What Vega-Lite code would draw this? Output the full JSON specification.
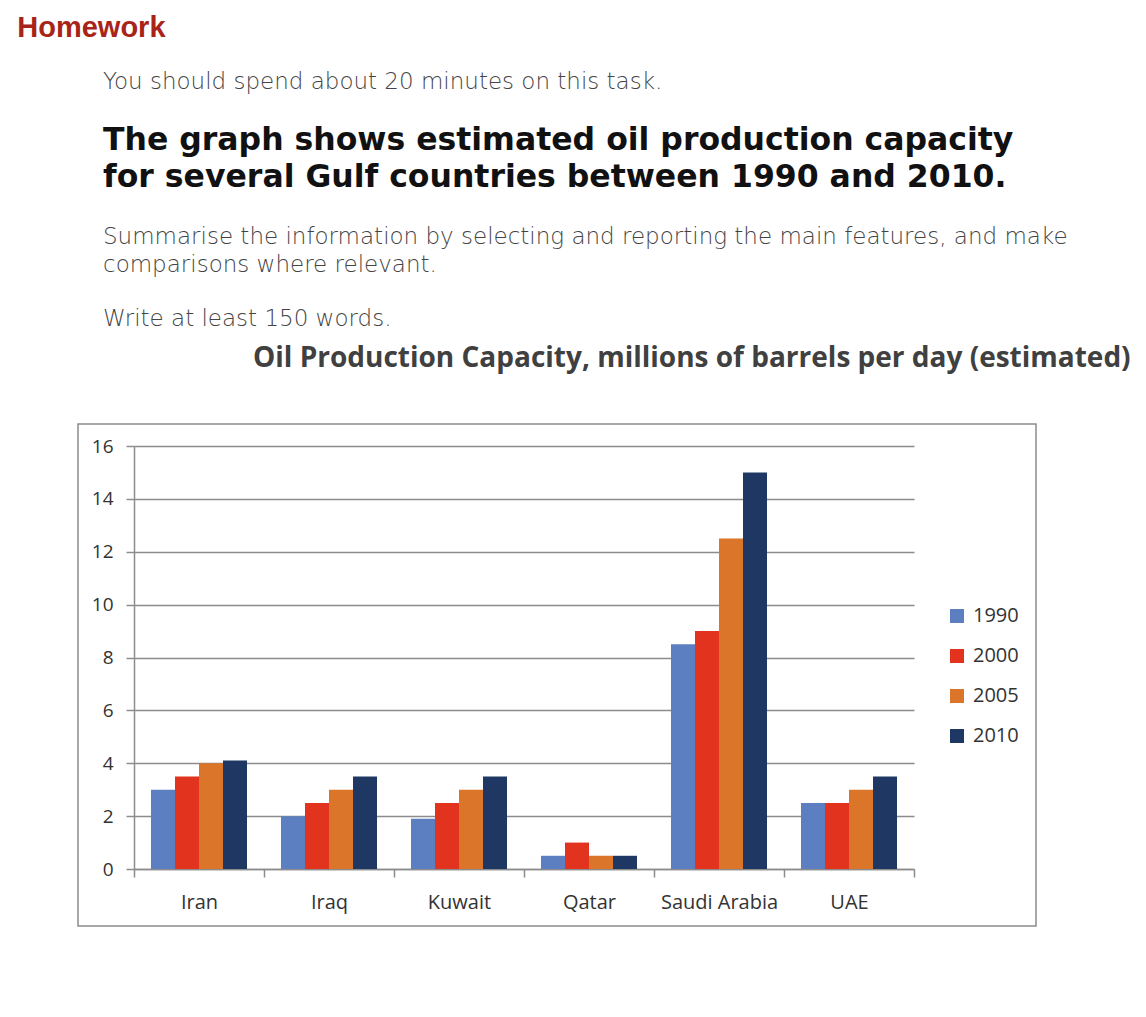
{
  "$schema": "https://vega.github.io/schema/vega-lite/v6.json",
  "background": "white",
  "padding": {"left": 17, "top": 13, "right": 2, "bottom": 2},
  "spacing": -7,
  "resolve": {"legend": {"color": "independent"}, "scale": {"color": "independent"}},
  "title": {
    "text": "Homework",
    "anchor": "start",
    "dx": -60,
    "font": "Liberation Sans",
    "fontSize": 29,
    "fontWeight": "bold",
    "color": "#a82418",
    "offset": 28
  },
  "datasets": {
    "oil": [
      {"country": "Iran", "year": "1990", "value": 3.0},
      {"country": "Iran", "year": "2000", "value": 3.5},
      {"country": "Iran", "year": "2005", "value": 4.0},
      {"country": "Iran", "year": "2010", "value": 4.1},
      {"country": "Iraq", "year": "1990", "value": 2.0},
      {"country": "Iraq", "year": "2000", "value": 2.5},
      {"country": "Iraq", "year": "2005", "value": 3.0},
      {"country": "Iraq", "year": "2010", "value": 3.5},
      {"country": "Kuwait", "year": "1990", "value": 1.9},
      {"country": "Kuwait", "year": "2000", "value": 2.5},
      {"country": "Kuwait", "year": "2005", "value": 3.0},
      {"country": "Kuwait", "year": "2010", "value": 3.5},
      {"country": "Qatar", "year": "1990", "value": 0.5},
      {"country": "Qatar", "year": "2000", "value": 1.0},
      {"country": "Qatar", "year": "2005", "value": 0.5},
      {"country": "Qatar", "year": "2010", "value": 0.5},
      {"country": "Saudi Arabia", "year": "1990", "value": 8.5},
      {"country": "Saudi Arabia", "year": "2000", "value": 9.0},
      {"country": "Saudi Arabia", "year": "2005", "value": 12.5},
      {"country": "Saudi Arabia", "year": "2010", "value": 15.0},
      {"country": "UAE", "year": "1990", "value": 2.5},
      {"country": "UAE", "year": "2000", "value": 2.5},
      {"country": "UAE", "year": "2005", "value": 3.0},
      {"country": "UAE", "year": "2010", "value": 3.5}
    ]
  },
  "vconcat": [
    {
      "width": 958,
      "height": 40,
      "data": {"values": []},
      "mark": "point",
      "title": {
        "text": "You should spend about 20 minutes on this task.",
        "subtitle": ["The graph shows estimated oil production capacity", "for several Gulf countries between 1990 and 2010."],
        "anchor": "start",
        "dx": 25,
        "offset": 0,
        "font": "DejaVu Sans",
        "fontSize": 23,
        "fontWeight": 200,
        "color": "#444444",
        "subtitleFont": "DejaVu Sans",
        "subtitleFontSize": 31.5,
        "subtitleFontWeight": "bold",
        "subtitleColor": "#111111",
        "subtitleLineHeight": 37,
        "subtitlePadding": 31
      }
    },
    {
      "width": 958,
      "height": 0,
      "data": {"values": []},
      "mark": "point",
      "title": {
        "text": ["Summarise the information by selecting and reporting the main features, and make", "comparisons where relevant."],
        "subtitle": "Write at least 150 words.",
        "anchor": "start",
        "dx": 25,
        "offset": 0,
        "font": "DejaVu Sans",
        "fontSize": 23,
        "fontWeight": 200,
        "lineHeight": 28,
        "color": "#444444",
        "subtitleFont": "DejaVu Sans",
        "subtitleFontSize": 23,
        "subtitleFontWeight": 200,
        "subtitleColor": "#444444",
        "subtitlePadding": 31
      }
    },
    {
      "width": 958,
      "height": 502,
      "view": {"stroke": "#8c8c8c", "strokeWidth": 1.5},
      "data": {"name": "oil"},
      "title": {
        "text": "Oil Production Capacity, millions of barrels per day (estimated)",
        "anchor": "start",
        "dx": 175,
        "offset": 51,
        "font": "Open Sans",
        "fontSize": 28,
        "fontWeight": "bold",
        "color": "#404040"
      },
      "mark": {"type": "bar"},
      "encoding": {
        "x": {
          "field": "country",
          "type": "nominal",
          "sort": ["Iran", "Iraq", "Kuwait", "Qatar", "Saudi Arabia", "UAE"],
          "scale": {"range": [56, 836], "paddingInner": 0, "paddingOuter": 0},
          "axis": {
            "title": null,
            "offset": -57,
            "tickBand": "extent",
            "labelAngle": 0,
            "labelFont": "Open Sans",
            "labelFontSize": 20,
            "labelColor": "#333333",
            "labelPadding": 15,
            "tickSize": 8,
            "domainColor": "#8c8c8c",
            "tickColor": "#8c8c8c",
            "domainWidth": 1.5,
            "tickWidth": 1.5,
            "grid": false
          }
        },
        "xOffset": {
          "field": "year",
          "type": "nominal",
          "scale": {"paddingInner": 0, "paddingOuter": 0.708}
        },
        "y": {
          "field": "value",
          "type": "quantitative",
          "scale": {"domain": [0, 16], "range": [445, 22], "nice": false},
          "axis": {
            "title": null,
            "offset": -56,
            "values": [0, 2, 4, 6, 8, 10, 12, 14, 16],
            "labelFont": "Open Sans",
            "labelFontSize": 19,
            "labelColor": "#333333",
            "labelPadding": 13,
            "tickSize": 8,
            "grid": true,
            "gridColor": "#8c8c8c",
            "gridWidth": 1.5,
            "domainColor": "#8c8c8c",
            "tickColor": "#8c8c8c",
            "domainWidth": 1.5,
            "tickWidth": 1.5
          }
        },
        "color": {
          "field": "year",
          "type": "nominal",
          "scale": {
            "domain": ["1990", "2000", "2005", "2010"],
            "range": ["#5b7fc0", "#e2331f", "#da7529", "#1f3763"]
          },
          "legend": {
            "title": null,
            "orient": "none",
            "legendX": 869,
            "legendY": 182,
            "symbolType": "square",
            "symbolSize": 196,
            "symbolStrokeWidth": 0,
            "symbolOpacity": 1,
            "labelFont": "Open Sans",
            "labelFontSize": 20,
            "labelColor": "#333333",
            "labelOffset": 6,
            "rowPadding": 20
          }
        }
      }
    }
  ],
  "config": {"view": {"stroke": null}}
}
